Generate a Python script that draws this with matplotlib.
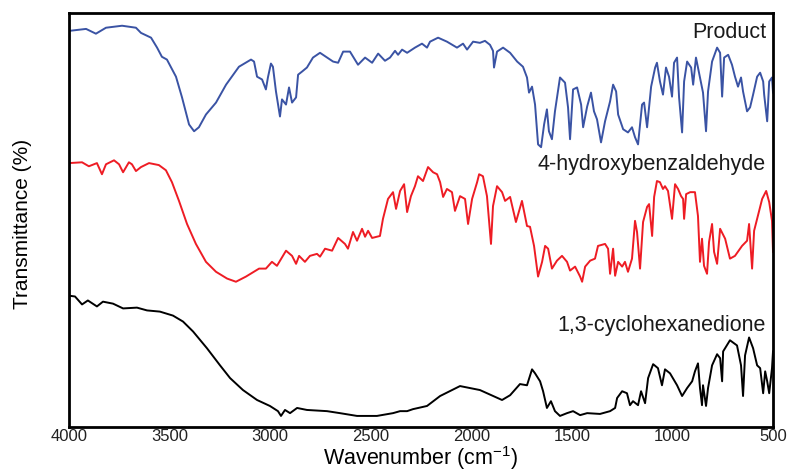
import numpy as np
import matplotlib
matplotlib.use("Agg")
import matplotlib.pyplot as plt

# FTIR spectra (transmittance in offset units)
product_wn = [4000, 3915, 3866, 3816, 3736, 3667, 3642, 3592, 3562, 3538, 3513, 3468, 3438, 3403,
              3378, 3354, 3319, 3269, 3219, 3155, 3095, 3080, 3065, 3040, 3021, 3011, 2996, 2986,
              2971, 2951, 2941, 2921, 2906, 2891, 2871, 2861, 2841, 2817, 2787, 2752, 2717, 2687,
              2662, 2637, 2603, 2563, 2528, 2493, 2463, 2429, 2404, 2379, 2364, 2344, 2319, 2280,
              2245, 2220, 2205, 2165, 2121, 2071, 2041, 2021, 1991, 1957, 1932, 1907, 1892, 1887,
              1872, 1842, 1807, 1772, 1743, 1723, 1713, 1698, 1683, 1668, 1653, 1638, 1624, 1614,
              1599, 1584, 1559, 1534, 1519, 1509, 1494, 1474, 1454, 1444, 1424, 1405, 1390, 1375,
              1355, 1335, 1310, 1295, 1280, 1270, 1245, 1221, 1201, 1186, 1171, 1151, 1141, 1126,
              1106, 1086, 1077, 1062, 1047, 1032, 1017, 1002, 992, 977, 967, 952, 942, 927, 907,
              897, 883, 868, 848, 833, 823, 803, 778, 763, 753, 743, 723, 704, 689, 674, 659, 649,
              629, 614, 599, 579, 564, 549, 544, 529, 519, 505, 500]
product_t = [99.5, 100, 98.8, 100.3, 100.8, 100.3, 99, 97.8, 95.3, 93, 92.3, 88, 82.8, 76,
             74.3, 75.3, 78.5, 81.5, 86, 90.5, 92.3, 91.8, 88, 87.3, 84.8, 87.8, 91.3, 90.5,
             84.3, 78, 82.3, 81, 85.3, 81.5, 82.8, 88.5, 89.3, 90.3, 92.8, 94, 92.8, 91.8,
             91.5, 94.3, 94.3, 91, 92.8, 91.5, 93.8, 92, 92.8, 94.5, 93.5, 94.8, 94, 95.3,
             96.3, 95.3, 96.8, 97.8, 96.8, 95.3, 96.3, 94.8, 96.8, 96.5, 97, 96, 94.5, 90.3,
             94.3, 95.3, 94, 91.8, 90.5, 87.8, 84, 85.5, 81, 71, 70.3, 76, 79.8, 74.3,
             72.3, 79.3, 87.8, 86.5, 80.3, 72.3, 84.8, 85.3, 81, 75.3, 80.5, 84, 79.3, 77.3,
             71.5, 76.8, 81.8, 86, 84.3, 78.5, 74.8, 74, 75.3, 72.8, 71, 81, 81.5, 75.3,
             85.5, 90.3, 91.5, 86.8, 83.5, 90.3, 88, 83, 91.5, 92.8, 82.8, 74, 86.8, 91.8, 90.3,
             86, 92.8, 89, 84, 74.3, 84.3, 91.8, 95.3, 94, 83, 92.8, 93.5, 91, 88, 85.5, 87.8, 84.3,
             79.3, 80.3, 83.5, 88, 89, 86.8, 83.5, 76.8, 86.8, 87.8, 84]

hba_wn = [4000, 3935, 3901, 3861, 3836, 3816, 3776, 3751, 3731, 3702, 3687, 3667, 3642, 3602,
          3553, 3518, 3488, 3453, 3413, 3369, 3319, 3269, 3214, 3170, 3120, 3055, 3021, 2991,
          2966, 2921, 2891, 2871, 2856, 2827, 2802, 2767, 2752, 2727, 2692, 2662, 2628, 2613,
          2588, 2568, 2543, 2528, 2513, 2493, 2454, 2439, 2414, 2389, 2374, 2354, 2334, 2319,
          2300, 2280, 2265, 2240, 2215, 2190, 2170, 2155, 2140, 2121, 2096, 2081, 2056, 2031,
          2016, 1996, 1971, 1961, 1942, 1922, 1902, 1892, 1872, 1847, 1832, 1807, 1778, 1748,
          1723, 1708, 1688, 1668, 1648, 1633, 1618, 1599, 1574, 1549, 1524, 1509, 1484, 1459,
          1449, 1434, 1409, 1385, 1370, 1335, 1320, 1310, 1295, 1285, 1270, 1250, 1236, 1221,
          1201, 1186, 1176, 1161, 1146, 1126, 1116, 1101, 1091, 1077, 1062, 1047, 1037, 1022,
          1002, 987, 972, 957, 947, 942, 932, 912, 888, 873, 863, 853, 843, 828, 818, 803, 793,
          778, 763, 738, 714, 689, 654, 629, 619, 604, 594, 579, 554, 534, 519, 505, 500]
hba_t = [66.3, 66.5, 65.5, 66.3, 63.5, 66, 67, 66, 64, 66.5, 66, 64.3, 65.3, 66.3,
         65.8, 64.5, 61.5, 56.8, 51, 46, 41.5, 39, 37.3, 36.5, 37.8, 39.8, 39.8, 41.5,
         40.5, 44.3, 43, 41, 43, 41.5, 43, 43.5, 42.8, 44.8, 44.3, 47.5, 46, 44.8,
         49, 46.8, 49.8, 47.8, 49.3, 47.5, 48, 52.3, 57.3, 59, 54.8, 59.3, 61, 54,
         58, 60.5, 63, 61.8, 65.3, 64, 63.5, 61.5, 57.8, 59.8, 59, 54.3, 58, 57.3,
         51, 57.3, 61.5, 63.5, 63, 58, 46, 55.5, 60.5, 59, 56.8, 57.8, 51.5, 56.8,
         50.5, 50.3, 45.5, 37.8, 41.5, 45.5, 44.8, 39.8, 41.8, 43, 41.5, 39.3, 40.3, 37.8,
         36.5, 40.3, 41.8, 42.3, 45.5, 46, 44.8, 38.5, 44.8, 38, 41.5, 40.3, 41.5, 39,
         42.3, 51.8, 49, 39.8, 51.5, 55.3, 56, 48, 57.8, 61.8, 61.5, 59.8, 60.5, 59.3,
         52.3, 61, 59.8, 58, 57.3, 52.3, 58.5, 59, 59, 53, 41.5, 47.3, 40.5, 38.5, 46.5, 51, 44,
         41, 49.8, 47.3, 42.3, 43, 45.5, 46.8, 51, 39.8, 49.3, 52.3, 57.3, 59.3, 56.5, 51.8, 44]

chd_wn = [4000, 3970, 3935, 3906, 3861, 3831, 3781, 3731, 3662, 3612, 3548, 3483, 3433, 3383,
          3314, 3249, 3199, 3135, 3065, 3001, 2961, 2946, 2926, 2901, 2866, 2817, 2717, 2653,
          2568, 2469, 2389, 2354, 2319, 2290, 2220, 2155, 2056, 1957, 1847, 1807, 1758, 1723,
          1698, 1683, 1668, 1658, 1643, 1624, 1604, 1584, 1559, 1524, 1494, 1459, 1424, 1360,
          1310, 1285, 1275, 1250, 1226, 1211, 1196, 1171, 1156, 1136, 1121, 1096, 1072, 1052,
          1037, 1012, 977, 952, 927, 902, 888, 873, 863, 853, 848, 833, 823, 803, 778, 763,
          753, 748, 714, 679, 659, 649, 639, 619, 599, 579, 564, 549, 539, 529, 519, 505, 500]
chd_t = [33, 32.8, 30.8, 31.8, 30.3, 31.5, 31, 29.8, 30, 29.3, 29, 28, 26.5, 24,
         19.8, 15.5, 12.3, 9.3, 6.8, 5.3, 4, 2.8, 4.3, 3.5, 4.8, 4.3, 4, 3.5,
         2.8, 2.8, 3.5, 4, 4, 4.5, 5.3, 7.8, 10.3, 9.3, 6.8, 8, 10.8, 10.5,
         14.5, 13.5, 12.3, 11.5, 9, 4.8, 6.5, 4, 2.8, 3.5, 4, 3, 3.5, 3.3,
         4, 4.8, 7.3, 9, 8.5, 5.5, 6.5, 5.5, 9, 6, 12.3, 15.8, 14.8, 10.5,
         14.5, 13.5, 10.5, 7.8, 9.8, 11.5, 14, 16, 9.8, 5.5, 10.5, 5.3, 9.8, 15.5, 18.3, 17.3,
         11.5, 19, 21.8, 20.5, 15.5, 7.8, 18, 22.5, 19.8, 15.5, 14.8, 8.5, 14, 11.5, 8.5, 14.8, 19]

names = ["Product", "4-hydroxybenzaldehyde", "1,3-cyclohexanedione"]
label_y = [99, 66, 25.5]
x_ticks = [4000, 3500, 3000, 2500, 2000, 1500, 1000, 500]

plt.rcParams['font.family'] = ['Liberation Sans', 'DejaVu Sans']

fig = plt.figure(figsize=(7.9, 4.74), dpi=100)
ax = fig.add_axes([0.0873, 0.099, 0.8912, 0.8736])

ax.plot(product_wn, product_t, color='#3a53a4', lw=1.4)
ax.plot(hba_wn, hba_t, color='#ee1c24', lw=1.4)
ax.plot(chd_wn, chd_t, color='black', lw=1.4)

for name, yy in zip(names, label_y):
    ax.text(0.99, yy, name, transform=ax.get_yaxis_transform(), fontsize=15.5,
            ha='right', va='center', color='#1a1a1a')

ax.set_xlim(4000, 500)
ax.set_ylim(0, 104)
ax.set_xticks(x_ticks)
ax.set_yticks([])
ax.tick_params(axis='x', length=0, pad=1.5, labelsize=12, labelcolor='#222222')
for s in ax.spines.values():
    s.set_linewidth(2)

ax.set_xlabel("Wavenumber (cm$^{\\mathregular{-1}}$)", fontsize=15.5, labelpad=0)
ax.set_ylabel("Transmittance (%)", fontsize=15)
ax.yaxis.set_label_coords(-0.052, 0.49)

fig.savefig("out.png", dpi=100)
